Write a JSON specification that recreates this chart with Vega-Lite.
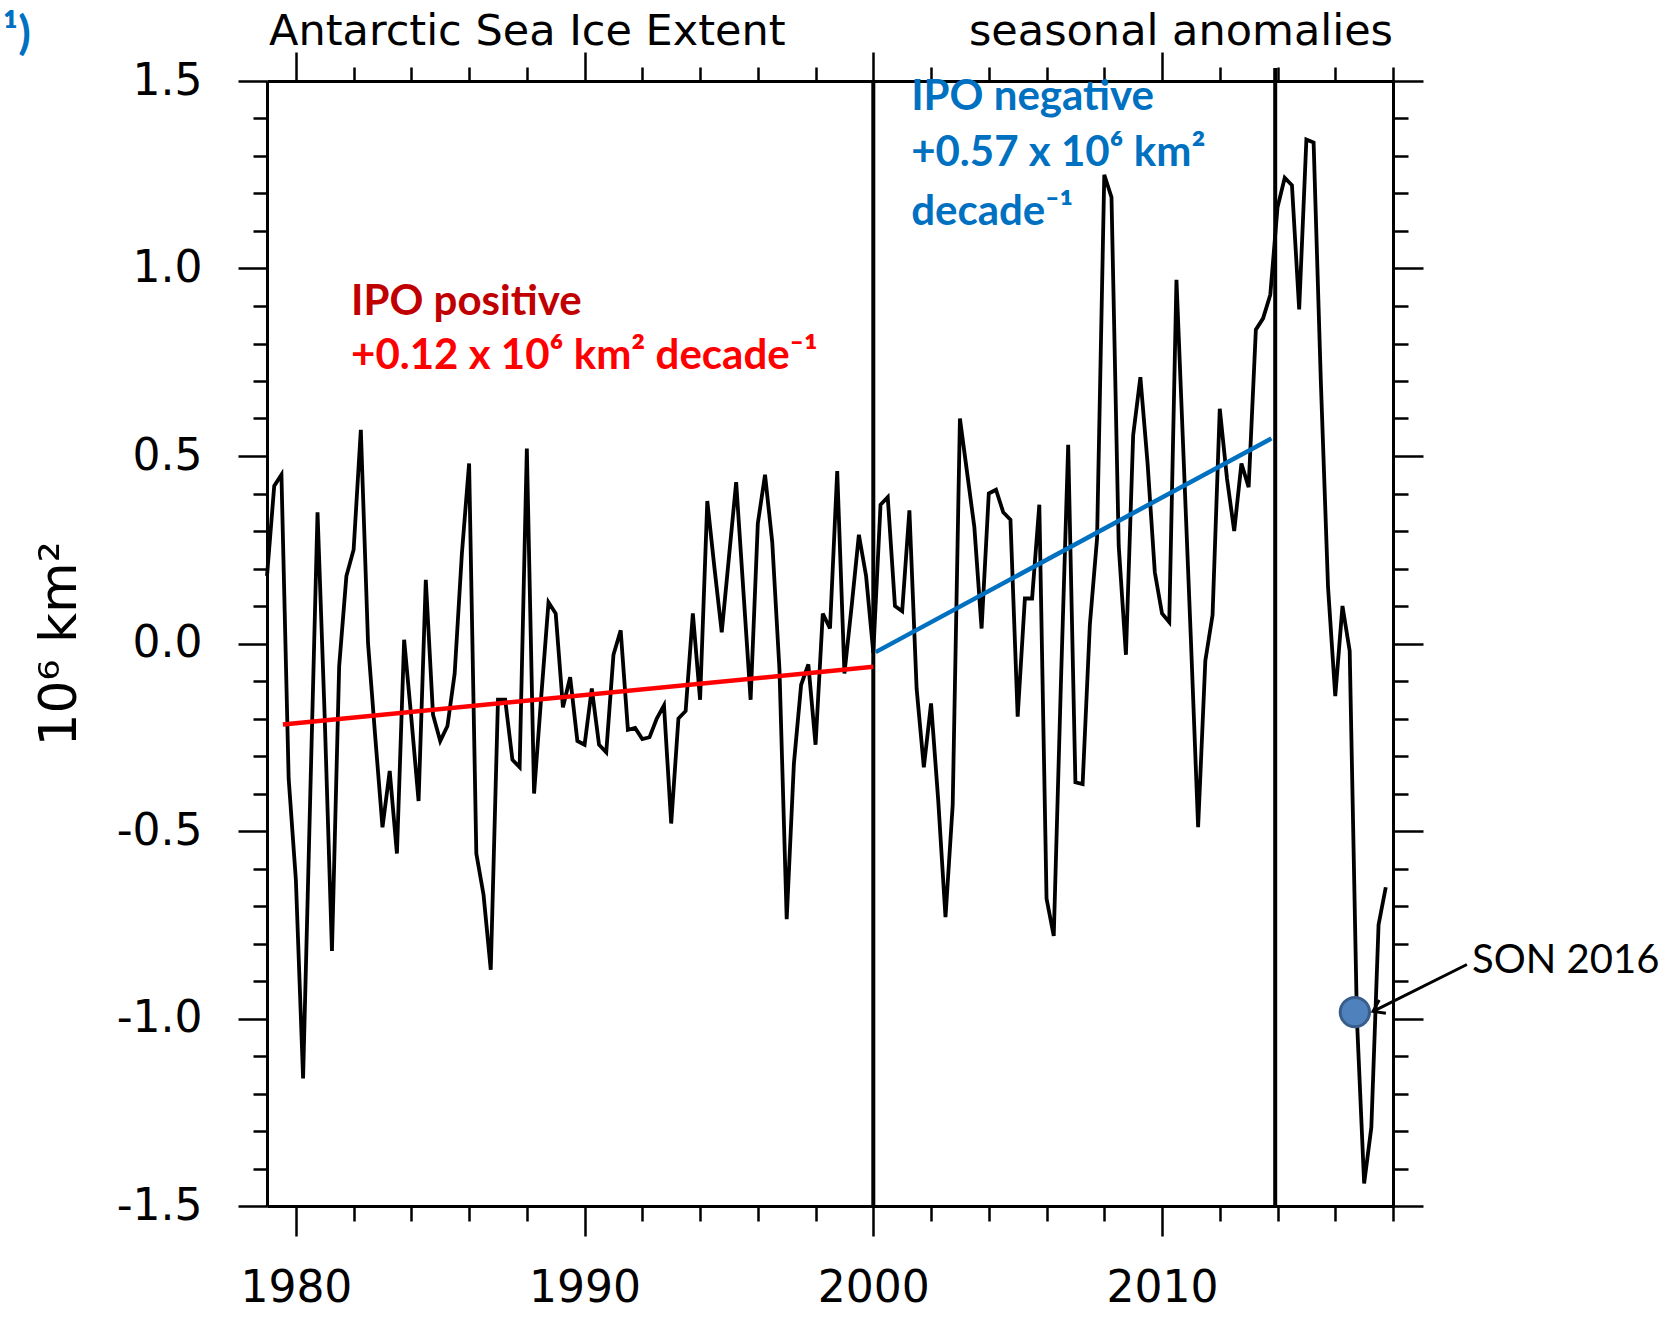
{
  "$schema": "https://vega.github.io/schema/vega-lite/v6.json",
  "width": 1126,
  "height": 1125,
  "autosize": {"type": "none"},
  "padding": {"left": 267, "top": 81, "right": 279, "bottom": 119},
  "background": "white",
  "config": {"view": {"stroke": null}},
  "datasets": {
    "series": [
      {"t": 1979.0, "v": 0.18}, {"t": 1979.25, "v": 0.42}, {"t": 1979.5, "v": 0.45}, {"t": 1979.75, "v": -0.36},
      {"t": 1980.0, "v": -0.63}, {"t": 1980.25, "v": -1.16}, {"t": 1980.5, "v": -0.4}, {"t": 1980.75, "v": 0.35},
      {"t": 1981.0, "v": -0.2}, {"t": 1981.25, "v": -0.82}, {"t": 1981.5, "v": -0.06}, {"t": 1981.75, "v": 0.18},
      {"t": 1982.0, "v": 0.25}, {"t": 1982.25, "v": 0.57}, {"t": 1982.5, "v": 0.0}, {"t": 1982.75, "v": -0.25},
      {"t": 1983.0, "v": -0.49}, {"t": 1983.25, "v": -0.34}, {"t": 1983.5, "v": -0.56}, {"t": 1983.75, "v": 0.01},
      {"t": 1984.0, "v": -0.2}, {"t": 1984.25, "v": -0.42}, {"t": 1984.5, "v": 0.17}, {"t": 1984.75, "v": -0.19},
      {"t": 1985.0, "v": -0.26}, {"t": 1985.25, "v": -0.22}, {"t": 1985.5, "v": -0.08}, {"t": 1985.75, "v": 0.24},
      {"t": 1986.0, "v": 0.48}, {"t": 1986.25, "v": -0.56}, {"t": 1986.5, "v": -0.67}, {"t": 1986.75, "v": -0.87},
      {"t": 1987.0, "v": -0.15}, {"t": 1987.25, "v": -0.15}, {"t": 1987.5, "v": -0.31}, {"t": 1987.75, "v": -0.33},
      {"t": 1988.0, "v": 0.52}, {"t": 1988.25, "v": -0.4}, {"t": 1988.5, "v": -0.14}, {"t": 1988.75, "v": 0.11},
      {"t": 1989.0, "v": 0.08}, {"t": 1989.25, "v": -0.17}, {"t": 1989.5, "v": -0.09}, {"t": 1989.75, "v": -0.26},
      {"t": 1990.0, "v": -0.27}, {"t": 1990.25, "v": -0.12}, {"t": 1990.5, "v": -0.27}, {"t": 1990.75, "v": -0.29},
      {"t": 1991.0, "v": -0.03}, {"t": 1991.25, "v": 0.035}, {"t": 1991.5, "v": -0.23}, {"t": 1991.75, "v": -0.225},
      {"t": 1992.0, "v": -0.255}, {"t": 1992.25, "v": -0.25}, {"t": 1992.5, "v": -0.2}, {"t": 1992.75, "v": -0.165},
      {"t": 1993.0, "v": -0.48}, {"t": 1993.25, "v": -0.2}, {"t": 1993.5, "v": -0.18}, {"t": 1993.75, "v": 0.08},
      {"t": 1994.0, "v": -0.15}, {"t": 1994.25, "v": 0.38}, {"t": 1994.5, "v": 0.2}, {"t": 1994.75, "v": 0.03},
      {"t": 1995.0, "v": 0.23}, {"t": 1995.25, "v": 0.43}, {"t": 1995.5, "v": 0.14}, {"t": 1995.75, "v": -0.15},
      {"t": 1996.0, "v": 0.32}, {"t": 1996.25, "v": 0.45}, {"t": 1996.5, "v": 0.27}, {"t": 1996.75, "v": -0.07},
      {"t": 1997.0, "v": -0.735}, {"t": 1997.25, "v": -0.32}, {"t": 1997.5, "v": -0.11}, {"t": 1997.75, "v": -0.056},
      {"t": 1998.0, "v": -0.27}, {"t": 1998.25, "v": 0.08}, {"t": 1998.5, "v": 0.04}, {"t": 1998.75, "v": 0.46},
      {"t": 1999.0, "v": -0.08}, {"t": 1999.25, "v": 0.1}, {"t": 1999.5, "v": 0.29}, {"t": 1999.75, "v": 0.18},
      {"t": 2000.0, "v": -0.025}, {"t": 2000.25, "v": 0.37}, {"t": 2000.5, "v": 0.39}, {"t": 2000.75, "v": 0.1},
      {"t": 2001.0, "v": 0.086}, {"t": 2001.25, "v": 0.355}, {"t": 2001.5, "v": -0.12}, {"t": 2001.75, "v": -0.33},
      {"t": 2002.0, "v": -0.16}, {"t": 2002.25, "v": -0.42}, {"t": 2002.5, "v": -0.73}, {"t": 2002.75, "v": -0.43},
      {"t": 2003.0, "v": 0.6}, {"t": 2003.25, "v": 0.455}, {"t": 2003.5, "v": 0.31}, {"t": 2003.75, "v": 0.04},
      {"t": 2004.0, "v": 0.4}, {"t": 2004.25, "v": 0.41}, {"t": 2004.5, "v": 0.35}, {"t": 2004.75, "v": 0.33},
      {"t": 2005.0, "v": -0.195}, {"t": 2005.25, "v": 0.12}, {"t": 2005.5, "v": 0.12}, {"t": 2005.75, "v": 0.37},
      {"t": 2006.0, "v": -0.68}, {"t": 2006.25, "v": -0.78}, {"t": 2006.5, "v": -0.1}, {"t": 2006.75, "v": 0.53},
      {"t": 2007.0, "v": -0.37}, {"t": 2007.25, "v": -0.375}, {"t": 2007.5, "v": 0.05}, {"t": 2007.75, "v": 0.28},
      {"t": 2008.0, "v": 1.25}, {"t": 2008.25, "v": 1.19}, {"t": 2008.5, "v": 0.26}, {"t": 2008.75, "v": -0.03},
      {"t": 2009.0, "v": 0.555}, {"t": 2009.25, "v": 0.71}, {"t": 2009.5, "v": 0.48}, {"t": 2009.75, "v": 0.19},
      {"t": 2010.0, "v": 0.08}, {"t": 2010.25, "v": 0.057}, {"t": 2010.5, "v": 0.97}, {"t": 2010.75, "v": 0.49},
      {"t": 2011.0, "v": 0.01}, {"t": 2011.25, "v": -0.49}, {"t": 2011.5, "v": -0.046}, {"t": 2011.75, "v": 0.076},
      {"t": 2012.0, "v": 0.626}, {"t": 2012.25, "v": 0.44}, {"t": 2012.5, "v": 0.3}, {"t": 2012.75, "v": 0.48},
      {"t": 2013.0, "v": 0.417}, {"t": 2013.25, "v": 0.837}, {"t": 2013.5, "v": 0.867}, {"t": 2013.75, "v": 0.93},
      {"t": 2014.0, "v": 1.163}, {"t": 2014.25, "v": 1.242}, {"t": 2014.5, "v": 1.222}, {"t": 2014.75, "v": 0.891},
      {"t": 2015.0, "v": 1.344}, {"t": 2015.25, "v": 1.336}, {"t": 2015.5, "v": 0.7}, {"t": 2015.75, "v": 0.15},
      {"t": 2016.0, "v": -0.14}, {"t": 2016.25, "v": 0.1}, {"t": 2016.5, "v": -0.02}, {"t": 2016.75, "v": -1.0},
      {"t": 2017.0, "v": -1.44}, {"t": 2017.25, "v": -1.29}, {"t": 2017.5, "v": -0.75}, {"t": 2017.75, "v": -0.65}
    ],
    "trends": [
      {"period": "IPO positive", "t": 1979.55, "v": -0.216},
      {"period": "IPO positive", "t": 2000.0, "v": -0.062},
      {"period": "IPO negative", "t": 2000.08, "v": -0.023},
      {"period": "IPO negative", "t": 2013.79, "v": 0.547}
    ],
    "rules": [
      {"t": 2000.0, "y0": -1.5, "y1": 1.5},
      {"t": 2013.92, "y0": -1.5, "y1": 1.535}
    ],
    "son": [{"label": "SON 2016", "t": 2016.68, "v": -0.983}],
    "arrow": [{"t": 2020.56, "v": -0.856, "t2": 2017.31, "v2": -0.981}],
    "labels": [
      {"grp": "titleL", "text": "Antarctic Sea Ice Extent", "t": 1979.07, "v": 1.596},
      {"grp": "titleR", "text": "seasonal anomalies", "t": 2018.0, "v": 1.596},
      {"grp": "panel", "text": "¹)", "t": 1969.85, "v": 1.585},
      {"grp": "pos1", "text": "IPO positive", "t": 1981.91, "v": 0.877},
      {"grp": "pos2", "text": "+0.12 x 10⁶ km² decade⁻¹", "t": 1981.91, "v": 0.731},
      {"grp": "neg", "text": "IPO negative", "t": 2001.31, "v": 1.424},
      {"grp": "neg", "text": "+0.57 x 10⁶ km²", "t": 2001.31, "v": 1.273},
      {"grp": "neg", "text": "decade⁻¹", "t": 2001.31, "v": 1.117},
      {"grp": "son", "text": "SON 2016", "t": 2020.74, "v": -0.878}
    ]
  },
  "layer": [
    {
      "data": {"name": "rules"},
      "mark": {"type": "rule", "color": "black", "strokeWidth": 4},
      "encoding": {
        "x": {"field": "t", "type": "quantitative", "scale": {"domain": [1979, 2018], "nice": false, "zero": false}, "axis": null},
        "y": {"field": "y0", "type": "quantitative", "scale": {"domain": [-1.5, 1.5], "nice": false, "zero": false}, "axis": null},
        "y2": {"field": "y1"}
      }
    },
    {
      "data": {"name": "series"},
      "mark": {"type": "line", "color": "black", "strokeWidth": 3.8},
      "encoding": {
        "x": {
          "field": "t", "type": "quantitative",
          "scale": {"domain": [1979, 2018], "nice": false, "zero": false},
          "axis": {
            "orient": "bottom",
            "values": [1980, 1982, 1984, 1986, 1988, 1990, 1992, 1994, 1996, 1998, 2000, 2002, 2004, 2006, 2008, 2010, 2012, 2014, 2016, 2018],
            "labelExpr": "datum.value % 10 == 0 ? '' + datum.value : ''",
            "tickSize": {"condition": {"test": "datum.value % 10 == 0", "value": 30}, "value": 15},
            "tickWidth": 2.5, "tickColor": "black",
            "domainColor": "black", "domainWidth": 3,
            "labelFont": "DejaVu Sans", "labelFontSize": 44, "labelColor": "black", "labelPadding": 30,
            "labelOverlap": false, "labelFlush": false,
            "grid": false, "title": null
          }
        },
        "y": {
          "field": "v", "type": "quantitative",
          "scale": {"domain": [-1.5, 1.5], "nice": false, "zero": false},
          "axis": {
            "orient": "left",
            "values": [-1.5, -1.4, -1.3, -1.2, -1.1, -1.0, -0.9, -0.8, -0.7, -0.6, -0.5, -0.4, -0.3, -0.2, -0.1, 0, 0.1, 0.2, 0.3, 0.4, 0.5, 0.6, 0.7, 0.8, 0.9, 1.0, 1.1, 1.2, 1.3, 1.4, 1.5],
            "labelExpr": "abs(datum.value*2 - round(datum.value*2)) < 0.01 ? replace(format(datum.value, '.1f'), '\u2212', '-') : ''",
            "tickSize": {"condition": {"test": "abs(datum.value*2 - round(datum.value*2)) < 0.01", "value": 29}, "value": 14},
            "tickWidth": 2.5, "tickColor": "black",
            "domainColor": "black", "domainWidth": 3,
            "labelFont": "DejaVu Sans", "labelFontSize": 44, "labelColor": "black", "labelPadding": 36,
            "labelOverlap": false, "labelFlush": false,
            "grid": false,
            "title": "10⁶ km²", "titleFont": "DejaVu Sans", "titleFontSize": 52, "titleFontWeight": "normal",
            "titleColor": "black", "titleX": -192, "titleBaseline": "alphabetic", "titleAngle": 270
          }
        }
      }
    },
    {
      "data": {"name": "trends"},
      "mark": {"type": "line", "strokeWidth": 4.5},
      "encoding": {
        "x": {
          "field": "t", "type": "quantitative",
          "scale": {"domain": [1979, 2018], "nice": false, "zero": false},
          "axis": {
            "orient": "top",
            "values": [1980, 1982, 1984, 1986, 1988, 1990, 1992, 1994, 1996, 1998, 2000, 2002, 2004, 2006, 2008, 2010, 2012, 2014, 2016, 2018],
            "labels": false,
            "tickSize": {"condition": {"test": "datum.value % 10 == 0", "value": 29}, "value": 14},
            "tickWidth": 2.5, "tickColor": "black",
            "domainColor": "black", "domainWidth": 3,
            "grid": false, "title": null
          }
        },
        "y": {
          "field": "v", "type": "quantitative",
          "scale": {"domain": [-1.5, 1.5], "nice": false, "zero": false},
          "axis": {
            "orient": "right",
            "values": [-1.5, -1.4, -1.3, -1.2, -1.1, -1.0, -0.9, -0.8, -0.7, -0.6, -0.5, -0.4, -0.3, -0.2, -0.1, 0, 0.1, 0.2, 0.3, 0.4, 0.5, 0.6, 0.7, 0.8, 0.9, 1.0, 1.1, 1.2, 1.3, 1.4, 1.5],
            "labels": false,
            "tickSize": {"condition": {"test": "abs(datum.value*2 - round(datum.value*2)) < 0.01", "value": 30}, "value": 15},
            "tickWidth": 2.5, "tickColor": "black",
            "domainColor": "black", "domainWidth": 3,
            "grid": false, "title": null
          }
        },
        "color": {"field": "period", "type": "nominal", "scale": {"domain": ["IPO positive", "IPO negative"], "range": ["#FF0000", "#0070C0"]}, "legend": null}
      }
    },
    {
      "data": {"name": "son"},
      "mark": {"type": "point", "shape": "circle", "filled": true, "fill": "#4F81BD", "stroke": "#385D8A", "strokeWidth": 3, "size": 860, "opacity": 1},
      "encoding": {
        "x": {"field": "t", "type": "quantitative", "scale": {"domain": [1979, 2018], "nice": false, "zero": false}, "axis": null},
        "y": {"field": "v", "type": "quantitative", "scale": {"domain": [-1.5, 1.5], "nice": false, "zero": false}, "axis": null}
      }
    },
    {
      "data": {"name": "arrow"},
      "mark": {"type": "rule", "color": "black", "strokeWidth": 3},
      "encoding": {
        "x": {"field": "t", "type": "quantitative", "scale": {"domain": [1979, 2018], "nice": false, "zero": false}, "axis": null},
        "y": {"field": "v", "type": "quantitative", "scale": {"domain": [-1.5, 1.5], "nice": false, "zero": false}, "axis": null},
        "x2": {"field": "t2"},
        "y2": {"field": "v2"}
      }
    },
    {
      "data": {"name": "arrow"},
      "mark": {"type": "point", "shape": "M 1 -0.7 L 0 0 L 1 0.7", "filled": false, "stroke": "black", "strokeWidth": 3, "size": 450, "angle": -26.6, "opacity": 1},
      "encoding": {
        "x": {"field": "t2", "type": "quantitative", "scale": {"domain": [1979, 2018], "nice": false, "zero": false}, "axis": null},
        "y": {"field": "v2", "type": "quantitative", "scale": {"domain": [-1.5, 1.5], "nice": false, "zero": false}, "axis": null}
      }
    },
    {
      "data": {"name": "labels"},
      "transform": [{"filter": "datum.grp == 'titleL'"}],
      "mark": {"type": "text", "align": "left", "baseline": "alphabetic", "font": "DejaVu Sans", "fontSize": 43, "color": "black"},
      "encoding": {
        "x": {"field": "t", "type": "quantitative", "scale": {"domain": [1979, 2018], "nice": false, "zero": false}, "axis": null},
        "y": {"field": "v", "type": "quantitative", "scale": {"domain": [-1.5, 1.5], "nice": false, "zero": false}, "axis": null},
        "text": {"field": "text"}
      }
    },
    {
      "data": {"name": "labels"},
      "transform": [{"filter": "datum.grp == 'titleR'"}],
      "mark": {"type": "text", "align": "right", "baseline": "alphabetic", "font": "DejaVu Sans", "fontSize": 43, "color": "black"},
      "encoding": {
        "x": {"field": "t", "type": "quantitative", "scale": {"domain": [1979, 2018], "nice": false, "zero": false}, "axis": null},
        "y": {"field": "v", "type": "quantitative", "scale": {"domain": [-1.5, 1.5], "nice": false, "zero": false}, "axis": null},
        "text": {"field": "text"}
      }
    },
    {
      "data": {"name": "labels"},
      "transform": [{"filter": "datum.grp == 'panel'"}],
      "mark": {"type": "text", "align": "left", "baseline": "alphabetic", "font": "Lato", "fontWeight": "bold", "fontSize": 46, "color": "#0070C0"},
      "encoding": {
        "x": {"field": "t", "type": "quantitative", "scale": {"domain": [1979, 2018], "nice": false, "zero": false}, "axis": null},
        "y": {"field": "v", "type": "quantitative", "scale": {"domain": [-1.5, 1.5], "nice": false, "zero": false}, "axis": null},
        "text": {"field": "text"}
      }
    },
    {
      "data": {"name": "labels"},
      "transform": [{"filter": "datum.grp == 'pos1'"}],
      "mark": {"type": "text", "align": "left", "baseline": "alphabetic", "font": "Lato", "fontWeight": "bold", "fontSize": 42, "color": "#C00000"},
      "encoding": {
        "x": {"field": "t", "type": "quantitative", "scale": {"domain": [1979, 2018], "nice": false, "zero": false}, "axis": null},
        "y": {"field": "v", "type": "quantitative", "scale": {"domain": [-1.5, 1.5], "nice": false, "zero": false}, "axis": null},
        "text": {"field": "text"}
      }
    },
    {
      "data": {"name": "labels"},
      "transform": [{"filter": "datum.grp == 'pos2'"}],
      "mark": {"type": "text", "align": "left", "baseline": "alphabetic", "font": "Lato", "fontWeight": "bold", "fontSize": 42, "color": "#FF0000"},
      "encoding": {
        "x": {"field": "t", "type": "quantitative", "scale": {"domain": [1979, 2018], "nice": false, "zero": false}, "axis": null},
        "y": {"field": "v", "type": "quantitative", "scale": {"domain": [-1.5, 1.5], "nice": false, "zero": false}, "axis": null},
        "text": {"field": "text"}
      }
    },
    {
      "data": {"name": "labels"},
      "transform": [{"filter": "datum.grp == 'neg'"}],
      "mark": {"type": "text", "align": "left", "baseline": "alphabetic", "font": "Lato", "fontWeight": "bold", "fontSize": 42, "color": "#0070C0"},
      "encoding": {
        "x": {"field": "t", "type": "quantitative", "scale": {"domain": [1979, 2018], "nice": false, "zero": false}, "axis": null},
        "y": {"field": "v", "type": "quantitative", "scale": {"domain": [-1.5, 1.5], "nice": false, "zero": false}, "axis": null},
        "text": {"field": "text"}
      }
    },
    {
      "data": {"name": "labels"},
      "transform": [{"filter": "datum.grp == 'son'"}],
      "mark": {"type": "text", "align": "left", "baseline": "alphabetic", "font": "Lato", "fontSize": 40, "color": "black"},
      "encoding": {
        "x": {"field": "t", "type": "quantitative", "scale": {"domain": [1979, 2018], "nice": false, "zero": false}, "axis": null},
        "y": {"field": "v", "type": "quantitative", "scale": {"domain": [-1.5, 1.5], "nice": false, "zero": false}, "axis": null},
        "text": {"field": "text"}
      }
    }
  ],
  "resolve": {"axis": {"x": "independent", "y": "independent"}}
}
